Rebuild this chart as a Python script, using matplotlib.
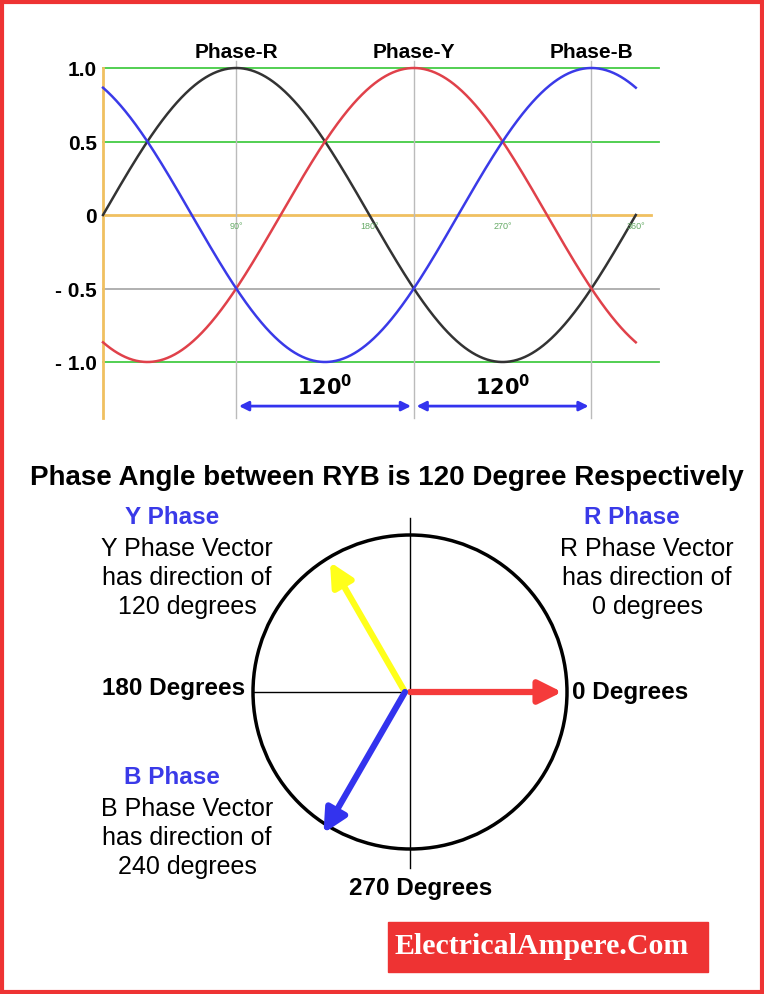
import numpy as np
import matplotlib
matplotlib.use("Agg")
import matplotlib.pyplot as plt
from matplotlib.patches import Circle, Rectangle

plt.rcParams["font.family"] = "Liberation Sans"

phase_names = ["Phase-R", "Phase-Y", "Phase-B"]
phase_shift_deg = [0, -120, 120]          # R, Y, B offsets
phase_colors = ["#333333", "#e0414a", "#3a3ae8"]
peak_deg = [90, 210, 330]
ytick_vals = [1.0, 0.5, 0, -0.5, -1.0]
ytick_labels = ["1.0", "0.5", "0", "- 0.5", "- 1.0"]
small_ticks = [90, 180, 270, 360]
vector_angles = [0, 120, 240]
vector_colors = ["#f53b3b", "#ffff1a", "#3333ee"]

W, H = 764, 994
fig = plt.figure(figsize=(W/100, H/100), dpi=100)

# ---- top sine chart ----
px0, pxscale = 103, 1.48
yzero, yscale = 215, 147
ax = fig.add_axes([95/W, 1-420/H, (660-95)/W, (420-40)/H])
ax.set_xlim((95-px0)/pxscale, (660-px0)/pxscale)
ax.set_ylim((215-420)/yscale, (215-40)/yscale)
ax.axis("off")
ax.set_clip_on(False)
for v, c in [(1, "#44cc44"), (0.5, "#44cc44"), (-0.5, "#aaaaaa"), (-1, "#44cc44")]:
    ax.plot([0, 376], [v, v], color=c, lw=1.3)
ax.plot([0, 370], [0, 0], color="#f0c060", lw=2)
ax.plot([0, 0], [-1.38, 1.0], color="#f0c060", lw=2)
for p in peak_deg:
    ax.plot([p, p], [-1.38, 1.05], color="#bbbbbb", lw=1)
th = np.linspace(0, 360, 721)
for sh, c in zip(phase_shift_deg, phase_colors):
    ax.plot(th, np.sin(np.radians(th + sh)), color=c, lw=1.8)
for p, n in zip(peak_deg, phase_names):
    ax.text(p, 1.04, n, ha="center", va="bottom", fontsize=15, fontweight="bold")
for t in small_ticks:
    ax.text(t, -0.05, f"{t}°", color="#66aa66", fontsize=6.5, ha="center", va="top")
for v, l in zip(ytick_vals, ytick_labels):
    t = ax.text(-4, v - 0.02, l, ha="right", va="center", fontsize=15, fontweight="bold")
    t.set_clip_on(False)
for a, b in [(peak_deg[0], peak_deg[1]), (peak_deg[1], peak_deg[2])]:
    ax.annotate("", xy=(b, -1.3), xytext=(a, -1.3),
                arrowprops=dict(arrowstyle="<|-|>", color="#3333ee", lw=2, mutation_scale=14))
    ax.text((a+b)/2, -1.25, r"$\mathbf{120^0}$", ha="center", va="bottom", fontsize=15)

# ---- overlay in pixel coords ----
ov = fig.add_axes([0, 0, 1, 1])
ov.set_xlim(0, W); ov.set_ylim(H, 0); ov.axis("off")
ov.add_patch(Rectangle((2, 2), W-4, H-4, fill=False, ec="#ee3333", lw=3))
ov.text(387, 478, "Phase Angle between RYB is 120 Degree Respectively",
        ha="center", va="center", fontsize=20, fontweight="bold")
cx, cy, r = 410, 692, 157
ov.add_patch(Circle((cx, cy), r, fill=False, ec="black", lw=2.5))
ov.plot([cx, cx], [518, 868], color="black", lw=1)
ov.plot([cx-r, cx], [cy, cy], color="black", lw=1)
lens = [152, 150, 163]
for ang, col, L in zip(vector_angles, vector_colors, lens):
    a = np.radians(ang)
    ox = cx - 5 if ang else cx
    ov.annotate("", xy=(ox + L*np.cos(a), cy - L*np.sin(a)), xytext=(ox, cy),
                arrowprops=dict(arrowstyle="-|>,head_length=1.0,head_width=0.5",
                                color=col, lw=4.5, mutation_scale=14, shrinkA=0, shrinkB=0))
ov.text(572, 693, "0 Degrees", ha="left", va="center", fontsize=17.5, fontweight="bold")
ov.text(245, 689, "180 Degrees", ha="right", va="center", fontsize=17.5, fontweight="bold")
ov.text(421, 888, "270 Degrees", ha="center", va="center", fontsize=17.5, fontweight="bold")
blocks = [(187, 518, "Y Phase", ["Y Phase Vector", "has direction of", "120 degrees"]),
          (647, 518, "R Phase", ["R Phase Vector", "has direction of", "0 degrees"]),
          (187, 778, "B Phase", ["B Phase Vector", "has direction of", "240 degrees"])]
for x, y, t, lines in blocks:
    ov.text(x - 15, y, t, ha="center", va="center", fontsize=17.5, fontweight="bold", color="#3a3ae8")
    for i, l in enumerate(lines):
        ov.text(x, y + 31 + 29*i, l, ha="center", va="center", fontsize=18)
ov.add_patch(Rectangle((388, 922), 320, 50, color="#ee3333"))
ov.text(542, 947, "ElectricalAmpere.Com", ha="center", va="center", fontsize=21.5,
        color="white", fontweight="bold", family="Liberation Serif")

fig.savefig("out.png", dpi=100)
